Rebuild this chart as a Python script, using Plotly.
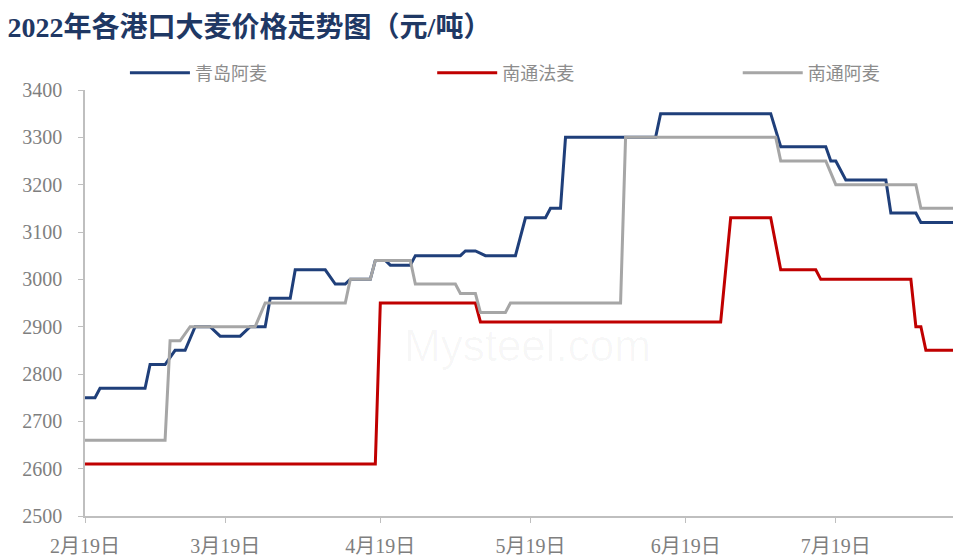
import plotly.graph_objects as go

# 青岛阿麦
qd_dates = ["2022-02-19", "2022-02-21", "2022-02-22", "2022-03-03", "2022-03-04", "2022-03-07",
            "2022-03-09", "2022-03-11", "2022-03-13", "2022-03-16", "2022-03-18", "2022-03-22",
            "2022-03-24", "2022-03-27", "2022-03-28", "2022-04-01", "2022-04-02", "2022-04-08",
            "2022-04-10", "2022-04-12", "2022-04-13", "2022-04-17", "2022-04-18", "2022-04-20",
            "2022-04-21", "2022-04-25", "2022-04-26", "2022-05-05", "2022-05-06", "2022-05-08",
            "2022-05-10", "2022-05-16", "2022-05-18", "2022-05-22", "2022-05-23", "2022-05-25",
            "2022-05-26", "2022-06-13", "2022-06-14", "2022-07-06", "2022-07-08", "2022-07-17",
            "2022-07-18", "2022-07-19", "2022-07-21", "2022-07-29", "2022-07-30", "2022-08-04",
            "2022-08-05", "2022-08-12"]
qd_values = [2750, 2750, 2770, 2770, 2820, 2820,
             2850, 2850, 2900, 2900, 2880, 2880,
             2900, 2900, 2960, 2960, 3020, 3020,
             2990, 2990, 3000, 3000, 3040, 3040,
             3030, 3030, 3050, 3050, 3060, 3060,
             3050, 3050, 3130, 3130, 3150, 3150,
             3300, 3300, 3350, 3350, 3280, 3280,
             3250, 3250, 3210, 3210, 3140, 3140,
             3120, 3120]

# 南通法麦
nf_dates = ["2022-02-19", "2022-04-18", "2022-04-19", "2022-05-08", "2022-05-09", "2022-06-26",
            "2022-06-28", "2022-07-06", "2022-07-08", "2022-07-15", "2022-07-16", "2022-08-03",
            "2022-08-04", "2022-08-05", "2022-08-06", "2022-08-12"]
nf_values = [2610, 2610, 2950, 2950, 2910, 2910,
             3130, 3130, 3020, 3020, 3000, 3000,
             2900, 2900, 2850, 2850]

# 南通阿麦
na_dates = ["2022-02-19", "2022-03-07", "2022-03-08", "2022-03-10", "2022-03-12", "2022-03-25",
            "2022-03-27", "2022-04-12", "2022-04-13", "2022-04-17", "2022-04-18", "2022-04-25",
            "2022-04-26", "2022-05-04", "2022-05-05", "2022-05-08", "2022-05-09", "2022-05-14",
            "2022-05-15", "2022-06-06", "2022-06-07", "2022-07-07", "2022-07-08", "2022-07-17",
            "2022-07-19", "2022-08-04", "2022-08-05", "2022-08-12"]
na_values = [2660, 2660, 2870, 2870, 2900, 2900,
             2950, 2950, 3000, 3000, 3040, 3040,
             2990, 2990, 2970, 2970, 2930, 2930,
             2950, 2950, 3300, 3300, 3250, 3250,
             3200, 3200, 3150, 3150]

tick_dates = ["2022-02-19", "2022-03-19", "2022-04-19", "2022-05-19", "2022-06-19", "2022-07-19"]
tick_text = ["2月19日", "3月19日", "4月19日", "5月19日", "6月19日", "7月19日"]
y_ticks = [2500, 2600, 2700, 2800, 2900, 3000, 3100, 3200, 3300, 3400]

series = [
    ("青岛阿麦", qd_dates, qd_values, "#1F3F7A", "legend", 0.046),
    ("南通法麦", nf_dates, nf_values, "#C00000", "legend2", 0.400),
    ("南通阿麦", na_dates, na_values, "#A6A6A6", "legend3", 0.752),
]

fig = go.Figure()
legend_font = dict(family="Noto Sans CJK SC", size=18, color="#8C8C8C")
legends = {}
for name, xs, ys, color, leg, lx in series:
    fig.add_trace(go.Scatter(x=xs, y=ys, name=name, mode="lines", legend=leg,
                             line=dict(color=color, width=3)))
    legends[leg] = dict(orientation="h", x=lx, xanchor="left", y=1.04, yanchor="middle",
                        font=legend_font, bgcolor="rgba(0,0,0,0)", itemwidth=60)

axis_font = dict(family="Liberation Serif, Noto Sans CJK SC", size=20, color="#7F7F7F")

fig.update_layout(
    width=953, height=558,
    margin=dict(l=85, r=0, t=90, b=42),
    paper_bgcolor="white", plot_bgcolor="white",
    title=dict(text="<b>2022年各港口大麦价格走势图（元/吨）</b>",
               x=0.008, xanchor="left", y=0.952, yanchor="middle",
               font=dict(family="Liberation Serif, Noto Sans CJK SC", size=28, color="#1F3864")),
    xaxis=dict(range=["2022-02-19", "2022-08-11 10:00"], tickvals=tick_dates, ticktext=tick_text,
               showgrid=False, zeroline=False, showline=True, linecolor="#BFBFBF", linewidth=1.5,
               ticks="outside", ticklen=5, tickcolor="#BFBFBF", tickfont=axis_font,
               ticklabelstandoff=6),
    yaxis=dict(range=[2500, 3400], tickvals=y_ticks, showgrid=False, zeroline=False,
               showline=True, linecolor="#BFBFBF", linewidth=1.5,
               ticks="outside", ticklen=5, tickcolor="#BFBFBF", tickfont=axis_font,
               ticklabelstandoff=12),
    showlegend=True,
    **legends,
)

# faint site watermark
fig.add_annotation(text="Mysteel.com", xref="paper", yref="paper", x=0.51, y=0.40,
                   showarrow=False,
                   font=dict(family="Liberation Sans", size=44, color="rgba(0,0,0,0.03)"))

fig.write_html("out.html")
